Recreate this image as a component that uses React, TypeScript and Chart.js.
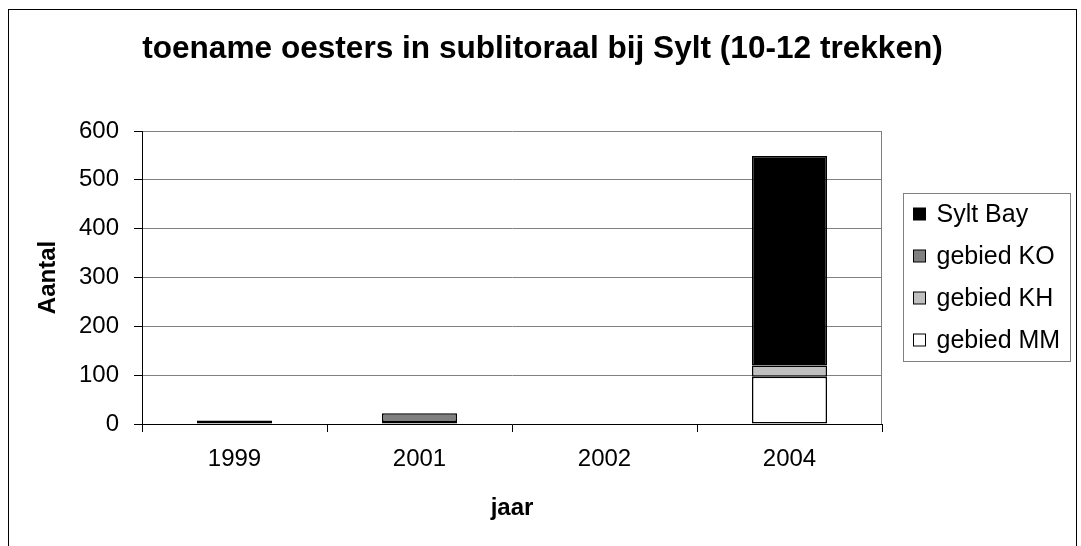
import React, { useEffect, useRef } from "react";
import { Chart, registerables } from "chart.js";

Chart.register(...registerables);

const categories = ["1999", "2001", "2002", "2004"];
const gebiedMM = [0, 4, 0, 97];
const gebiedKH = [0, 0, 0, 23];
const gebiedKO = [0, 18, 0, 0];
const syltBay = [7, 0, 0, 429];
const yTicks = [0, 100, 200, 300, 400, 500, 600];

const TITLE = "toename oesters in sublitoraal bij Sylt (10-12 trekken)";
const FONT = '"Liberation Sans", Arial, sans-serif';

const seriesNames = ["gebied MM", "gebied KH", "gebied KO", "Sylt Bay"];
const seriesColors = ["#ffffff", "#c0c0c0", "#808080", "#000000"];

const decorPlugin = {
  id: "decor",
  beforeDatasetsDraw(chart: any) {
    const { ctx, chartArea } = chart;
    ctx.save();
    ctx.strokeStyle = "#808080";
    ctx.lineWidth = 1;
    ctx.beginPath();
    const x = Math.round(chartArea.right) - 0.5;
    ctx.moveTo(x, chartArea.top);
    ctx.lineTo(x, chartArea.bottom);
    ctx.stroke();
    ctx.restore();
  },
  afterDraw(chart: any) {
    const { ctx, chartArea } = chart;
    ctx.save();
    // outer frame
    const fx = 8.5;
    const fy = 9.5;
    const fw = chart.width - 13;
    ctx.strokeStyle = "#000";
    ctx.lineWidth = 1;
    ctx.strokeRect(fx, fy, fw, chart.height + 40);

    // title
    ctx.fillStyle = "#000";
    ctx.font = `bold 31.6px ${FONT}`;
    ctx.textAlign = "center";
    ctx.textBaseline = "alphabetic";
    ctx.fillText(TITLE, fx + fw / 2, 58);

    // legend
    const lx = Math.round(chartArea.right) + 21.5;
    const ly = 193.5;
    const lw = 167;
    const lh = 168;
    ctx.strokeStyle = "#808080";
    ctx.strokeRect(lx, ly, lw, lh);
    ctx.font = `25px ${FONT}`;
    ctx.textAlign = "left";
    ctx.textBaseline = "middle";
    const order = [3, 2, 1, 0];
    order.forEach((di, i) => {
      const cy = 214 + i * 42;
      ctx.fillStyle = seriesColors[di];
      ctx.fillRect(lx + 10, cy - 6, 12, 12);
      ctx.strokeStyle = "#000";
      ctx.strokeRect(lx + 10, cy - 6, 12, 12);
      ctx.fillStyle = "#000";
      ctx.fillText(seriesNames[di], lx + 33, cy + 1);
    });
    ctx.restore();
  },
};

export default function App() {
  const ref = useRef<HTMLCanvasElement | null>(null);

  useEffect(() => {
    if (!ref.current) return;
    const values = [gebiedMM, gebiedKH, gebiedKO, syltBay];
    const chart = new Chart(ref.current, {
      type: "bar",
      data: {
        labels: categories,
        datasets: values.map((v, i) => ({
          label: seriesNames[i],
          data: v,
          backgroundColor: seriesColors[i],
          borderColor: "#000",
          borderWidth: 1.5,
          borderSkipped: false,
          inflateAmount: 0,
          categoryPercentage: 1,
          barPercentage: 75 / 185,
        })),
      },
      options: {
        animation: false,
        responsive: false,
        events: [],
        layout: { padding: { left: 8, right: 199, top: 131, bottom: 0 } },
        plugins: {
          legend: { display: false },
          title: { display: false },
          tooltip: { enabled: false },
        },
        scales: {
          x: {
            stacked: true,
            afterFit: (s: any) => {
              s.height = 122;
            },
            grid: {
              display: true,
              drawOnChartArea: false,
              drawTicks: true,
              tickLength: 8,
              tickColor: "#000",
              offset: true,
            },
            border: { display: true, color: "#000", width: 1 },
            ticks: {
              color: "#000",
              font: { family: FONT, size: 24 },
              padding: 13,
              maxRotation: 0,
              autoSkip: false,
            },
            title: {
              display: true,
              text: "jaar",
              color: "#000",
              font: { family: FONT, size: 24, weight: "bold" },
              padding: { top: 0, bottom: 23.6 },
            },
          },
          y: {
            stacked: true,
            min: 0,
            max: 600,
            afterFit: (s: any) => {
              s.width = 134;
            },
            afterBuildTicks: (s: any) => {
              s.ticks = yTicks.map((v) => ({ value: v }));
            },
            grid: {
              color: "#808080",
              drawTicks: true,
              tickLength: 8,
              tickColor: "#000",
            },
            border: { display: true, color: "#000", width: 1 },
            ticks: {
              color: "#000",
              font: { family: FONT, size: 24 },
              padding: 15,
            },
            title: {
              display: true,
              text: "Aantal",
              color: "#000",
              font: { family: FONT, size: 24, weight: "bold" },
              padding: { top: 25.6, bottom: 0 },
            },
          },
        },
      },
      plugins: [decorPlugin],
    });
    return () => chart.destroy();
  }, []);

  return (
    <canvas
      ref={ref}
      width={1081}
      height={546}
      style={{
        position: "absolute",
        left: 0,
        top: 0,
        width: "1081px",
        height: "546px",
        display: "block",
        background: "#fff",
      }}
    />
  );
}
